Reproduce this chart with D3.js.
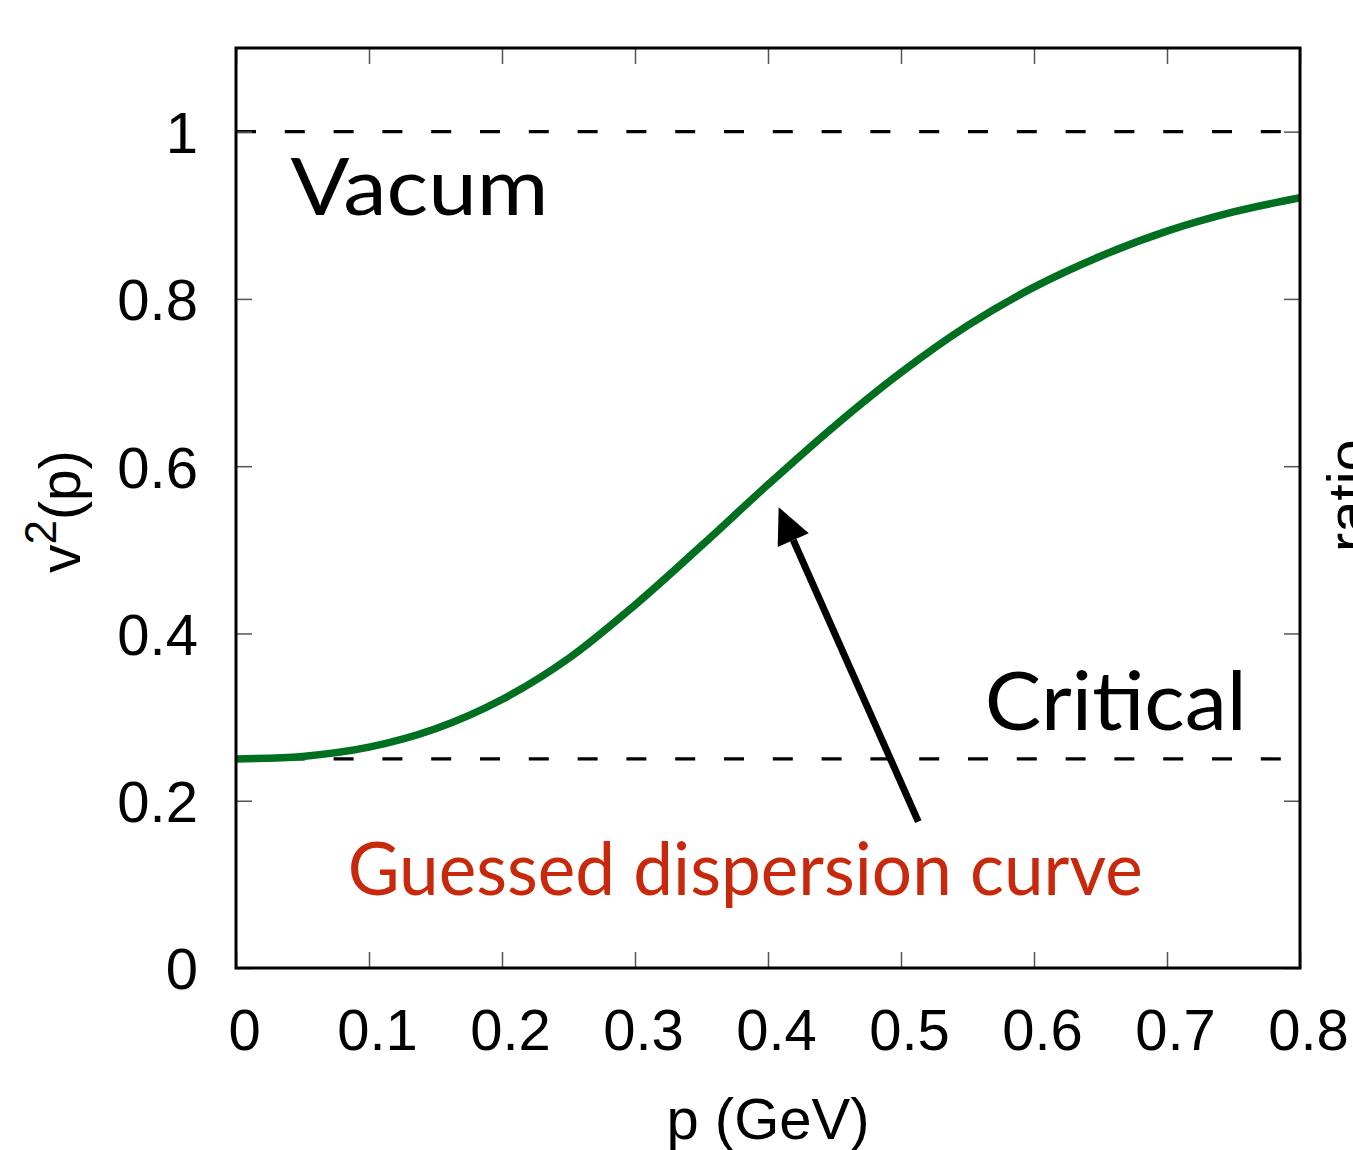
<!DOCTYPE html>
<html>
<head>
<meta charset="utf-8">
<script src="https://cdn.jsdelivr.net/npm/d3@7"></script>
<style>
  body { margin: 0; background: #fff; }
  svg { display: block; }
</style>
</head>
<body>
<div id="chart"></div>
<script>
// p (GeV) and v^2(p)
const P = [0, 0.05, 0.1, 0.15, 0.2, 0.25, 0.3, 0.35, 0.4, 0.45, 0.5, 0.55, 0.6, 0.65, 0.7, 0.75, 0.8];
const V2 = [0.250, 0.253, 0.264, 0.286, 0.321, 0.370, 0.434, 0.505, 0.578, 0.648, 0.712, 0.768, 0.814, 0.851, 0.881, 0.904, 0.921];

const X_TICKS = [0, 0.1, 0.2, 0.3, 0.4, 0.5, 0.6, 0.7, 0.8];
const Y_TICKS = [0, 0.2, 0.4, 0.6, 0.8, 1];
const REF_LINES = [1, 0.25]; // vacuum, critical

const width = 1353;
const height = 1150;
const margin = {top: 48, right: 53, bottom: 182, left: 236};
const axisFont = '"Liberation Sans", Arial, Helvetica, sans-serif';
const noteFont = 'Lato, "Open Sans", sans-serif';

const svg = d3.select('#chart').append('svg')
  .attr('width', width)
  .attr('height', height);

const x = d3.scaleLinear().domain([0, 0.8]).range([margin.left, width - margin.right]);
const y = d3.scaleLinear().domain([0, 1.1]).range([height - margin.bottom, margin.top]);

// dashed reference lines
svg.append('g')
  .selectAll('line')
  .data(REF_LINES)
  .enter().append('line')
    .attr('x1', x(0))
    .attr('x2', x(0.8) - 18)
    .attr('y1', d => y(d))
    .attr('y2', d => y(d))
    .attr('stroke', '#000')
    .attr('stroke-width', 3.2)
    .attr('stroke-dasharray', '20,28.8');

// curve
const line = d3.line()
  .x((d, i) => x(P[i]))
  .y(d => y(d))
  .curve(d3.curveCatmullRom);

svg.append('path')
  .datum(V2)
  .attr('fill', 'none')
  .attr('stroke', '#006f1f')
  .attr('stroke-width', 7.5)
  .attr('d', line);

// axes, ticks pointing inward
const tickLen = -16;
function styleTicks(g) {
  g.select('.domain').remove();
  g.selectAll('.tick line')
    .attr('stroke', '#555')
    .attr('stroke-width', 1.5);
}

const xAxis = svg.append('g')
  .attr('transform', `translate(0,${y(0)})`)
  .call(d3.axisBottom(x).tickValues(X_TICKS).tickSizeInner(tickLen).tickSizeOuter(0)
    .tickFormat(d => d === 0 ? '0' : d3.format('.1f')(d)));
styleTicks(xAxis);
xAxis.selectAll('.tick text')
  .attr('y', 82)
  .attr('dy', 0)
  .attr('x', 8)
  .attr('fill', '#000')
  .attr('font-family', axisFont)
  .attr('font-size', 58);

const yAxis = svg.append('g')
  .attr('transform', `translate(${x(0)},0)`)
  .call(d3.axisLeft(y).tickValues(Y_TICKS).tickSizeInner(tickLen).tickSizeOuter(0)
    .tickFormat(d => d === 0 || d === 1 ? d3.format('d')(d) : d3.format('.1f')(d)));
styleTicks(yAxis);
yAxis.selectAll('.tick text')
  .attr('x', -38)
  .attr('dy', '0.36em')
  .attr('fill', '#000')
  .attr('font-family', axisFont)
  .attr('font-size', 58);

const topAxis = svg.append('g')
  .attr('transform', `translate(0,${y(1.1)})`)
  .call(d3.axisTop(x).tickValues(X_TICKS).tickSizeInner(tickLen).tickSizeOuter(0).tickFormat(''));
styleTicks(topAxis);

const rightAxis = svg.append('g')
  .attr('transform', `translate(${x(0.8)},0)`)
  .call(d3.axisRight(y).tickValues(Y_TICKS).tickSizeInner(tickLen).tickSizeOuter(0).tickFormat(''));
styleTicks(rightAxis);

// frame
svg.append('rect')
  .attr('x', x(0))
  .attr('y', y(1.1))
  .attr('width', x(0.8) - x(0))
  .attr('height', y(0) - y(1.1))
  .attr('fill', 'none')
  .attr('stroke', '#000')
  .attr('stroke-width', 3);

// axis titles
svg.append('text')
  .attr('x', (x(0) + x(0.8)) / 2)
  .attr('y', 1139)
  .attr('text-anchor', 'middle')
  .attr('font-family', axisFont)
  .attr('font-size', 58)
  .text('p (GeV)');

const yTitle = svg.append('text')
  .attr('transform', 'translate(80,573) rotate(-90)')
  .attr('font-family', axisFont)
  .attr('font-size', 57);
yTitle.append('tspan').text('v');
yTitle.append('tspan').attr('font-size', 44).attr('dy', -24).text('2');
yTitle.append('tspan').attr('dy', 24).text('(p)');

// second axis title; the reference shows it cut by the right edge
svg.append('text')
  .attr('transform', 'translate(1368,552) rotate(-90)')
  .attr('font-family', axisFont)
  .attr('font-size', 58)
  .text('ratio');

// annotations, placed in data coordinates
function note(text, p, v, size, color, targetWidth) {
  const t = svg.append('text')
    .attr('font-family', noteFont)
    .attr('font-size', size)
    .attr('fill', color)
    .text(text);
  const w = t.node().getComputedTextLength();
  const sx = targetWidth / w;
  t.attr('transform', `translate(${x(p)},${y(v)}) scale(${sx},1)`);
}
note('Vacum', 0.041, 0.900, 80, '#000', 258);
note('Critical', 0.563, 0.284, 82, '#000', 262);
note('Guessed dispersion curve', 0.084, 0.087, 73, '#c8280c', 795);

// arrow from the label up to the curve
const tail = [x(0.513), y(0.175)];
const tip = [x(0.408), y(0.551)];
const ang = Math.atan2(tip[1] - tail[1], tip[0] - tail[0]);
const headLen = 36;
const headHalf = 17;
const base = [tip[0] - headLen * Math.cos(ang), tip[1] - headLen * Math.sin(ang)];

svg.append('line')
  .attr('x1', tail[0])
  .attr('y1', tail[1])
  .attr('x2', base[0])
  .attr('y2', base[1])
  .attr('stroke', '#000')
  .attr('stroke-width', 7);

svg.append('path')
  .attr('fill', '#000')
  .attr('d', d3.line()([
    tip,
    [base[0] + headHalf * Math.sin(ang), base[1] - headHalf * Math.cos(ang)],
    [base[0] - headHalf * Math.sin(ang), base[1] + headHalf * Math.cos(ang)]
  ]) + 'Z');
</script>
</body>
</html>
